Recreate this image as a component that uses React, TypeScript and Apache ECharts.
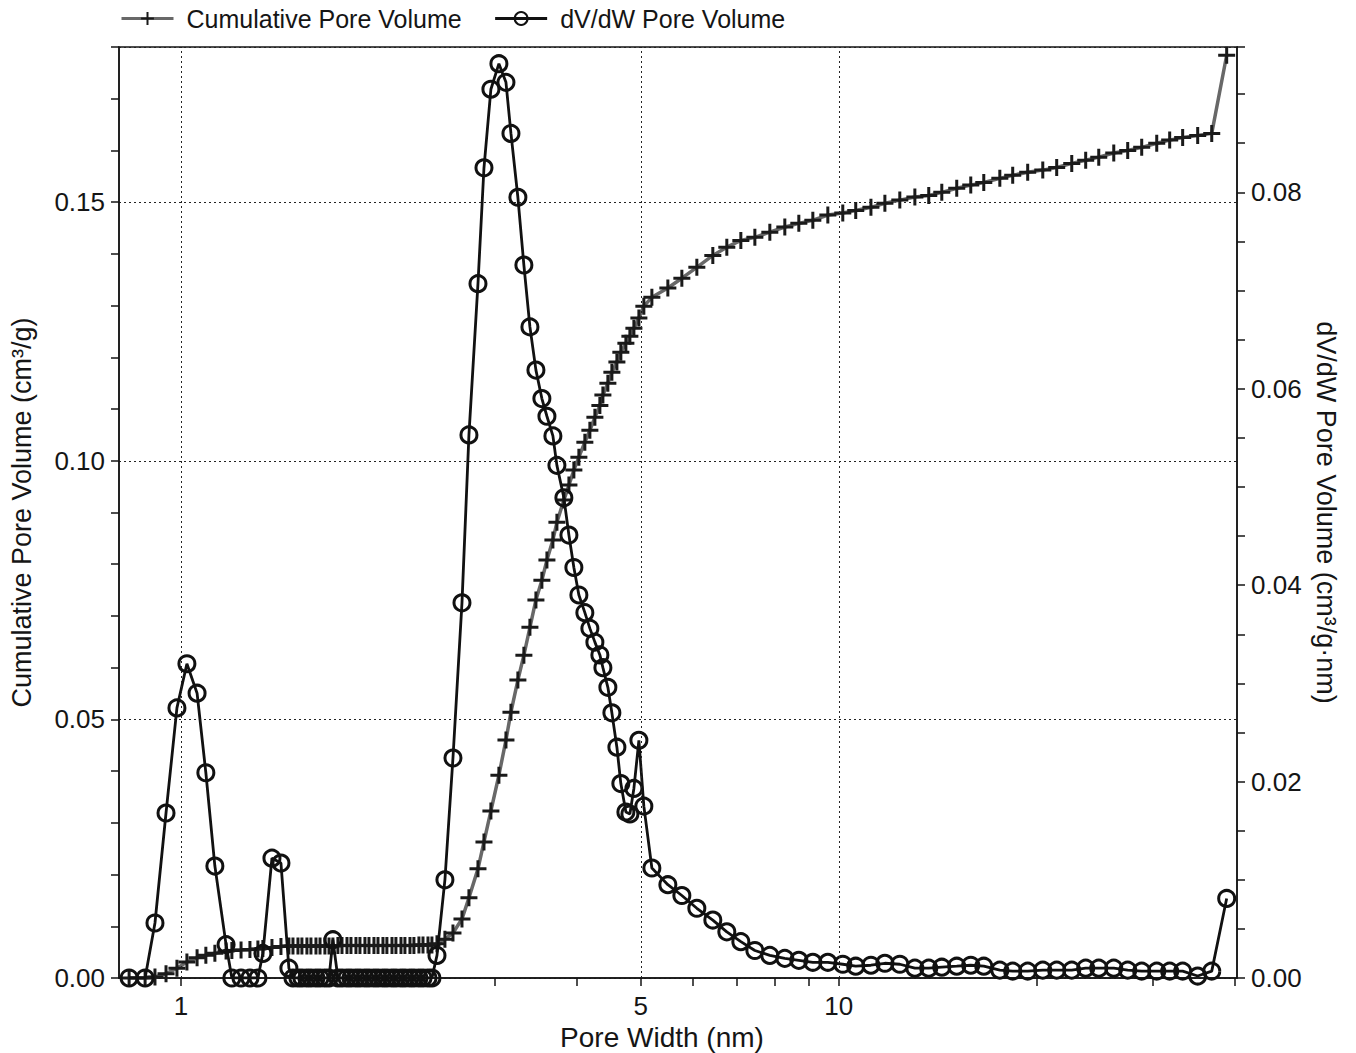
import React, { useEffect, useRef } from "react";
import * as echarts from "echarts";

// Pore width (nm), shared by both series
const poreWidth = [
  0.834, 0.882, 0.913, 0.949, 0.986, 1.021, 1.058, 1.091, 1.126, 1.171, 1.195, 1.234, 1.273, 1.309, 1.332, 1.375, 1.419, 1.459,
  1.48, 1.506, 1.527, 1.554, 1.576, 1.604, 1.627, 1.655, 1.679, 1.702, 1.732, 1.757, 1.788, 1.813, 1.845, 1.871, 1.904, 1.931,
  1.965, 1.993, 2.028, 2.056, 2.093, 2.122, 2.16, 2.19, 2.229, 2.26, 2.3, 2.333, 2.374, 2.407,
  2.45, 2.519, 2.591, 2.674, 2.74, 2.828, 2.888, 2.959, 3.043, 3.119, 3.174, 3.252, 3.321, 3.392, 3.464, 3.537, 3.6, 3.676,
  3.728, 3.82, 3.888, 3.956, 4.026, 4.111, 4.184, 4.258, 4.333, 4.379, 4.456, 4.519, 4.599, 4.663, 4.746, 4.813, 4.881, 4.967,
  5.054, 5.198,
  5.497, 5.773, 6.084, 6.434, 6.757, 7.097, 7.454, 7.855, 8.278, 8.694, 9.131, 9.623, 10.14, 10.61, 11.19, 11.75, 12.38, 13.05,
  13.7, 14.34, 15.11, 15.87, 16.61, 17.57, 18.38, 19.37, 20.42, 21.44, 22.6, 23.73, 24.84, 26.18, 27.49, 28.87, 30.43, 31.84,
  33.32, 35.12, 36.89, 38.87,
];

// Cumulative pore volume (cm³/g), left axis
const cumulativePoreVolume = [
  0, 0, 0.0002, 0.0008, 0.0019, 0.0031, 0.0039, 0.0044, 0.0048, 0.0052, 0.0053, 0.0054, 0.0055, 0.0056, 0.0057, 0.0059, 0.0061, 0.0062,
  0.0062, 0.0062, 0.0062, 0.0062, 0.0062, 0.0062, 0.0062, 0.0062, 0.0062, 0.0062, 0.0063, 0.0063, 0.0063, 0.0063, 0.0063, 0.0063,
  0.0063, 0.0063, 0.0063, 0.0063, 0.0063, 0.0063, 0.0063, 0.0063, 0.0063, 0.0063, 0.0063, 0.0063, 0.0064, 0.0064, 0.0064, 0.0064,
  0.0066, 0.0075, 0.0087, 0.0114, 0.0155, 0.0211, 0.0263, 0.0323, 0.0392, 0.046, 0.0514, 0.0576, 0.0624, 0.0678, 0.0731, 0.0769,
  0.0808, 0.0847, 0.0881, 0.0924, 0.0953, 0.0982, 0.1007, 0.1036, 0.1059, 0.1084, 0.1107, 0.1127, 0.115, 0.1171, 0.1191, 0.121,
  0.1227, 0.1241, 0.1256, 0.1276, 0.1299, 0.1316,
  0.1334, 0.1353, 0.1374, 0.1397, 0.1413, 0.1426, 0.1432, 0.1442, 0.1452, 0.1459, 0.1465, 0.1475, 0.1479, 0.1484, 0.149, 0.1498,
  0.1504, 0.151, 0.1513, 0.1519, 0.1527, 0.1533, 0.1538, 0.1546, 0.1552, 0.1558, 0.1562, 0.1567, 0.1575, 0.1581, 0.1587, 0.1595,
  0.16, 0.1606, 0.1614, 0.162, 0.1625, 0.1629, 0.1633, 0.1784,
];

// dV/dW pore volume (cm³/g·nm), right axis
const dVdWPoreVolume = [
  0, 0, 0.0056, 0.0168, 0.0275, 0.032, 0.029, 0.0209, 0.0114, 0.0034, 0, 0, 0, 0, 0.0025, 0.0122, 0.0117, 0.001,
  0, 0, 0, 0, 0, 0, 0, 0, 0, 0.0039, 0, 0, 0, 0, 0, 0, 0, 0, 0, 0, 0, 0, 0, 0, 0, 0, 0, 0, 0, 0, 0, 0,
  0.0023, 0.01, 0.0224, 0.0382, 0.0553, 0.0707, 0.0825, 0.0905, 0.0931, 0.0912, 0.086, 0.0795, 0.0726, 0.0663, 0.0619, 0.059,
  0.0572, 0.0552, 0.0522, 0.0489, 0.0451, 0.0418, 0.039, 0.0372, 0.0356, 0.0342, 0.0329, 0.0316, 0.0296, 0.027, 0.0235, 0.0198,
  0.0169, 0.0167, 0.0193, 0.0242, 0.0175, 0.0112,
  0.0095, 0.0084, 0.0071, 0.0059, 0.0047, 0.0037, 0.0028, 0.0023, 0.002, 0.0018, 0.0016, 0.0016, 0.0014, 0.0012, 0.0013, 0.0015,
  0.0014, 0.001, 0.001, 0.0011, 0.0012, 0.0013, 0.0012, 0.0008, 0.0007, 0.0007, 0.0008, 0.0008, 0.0008, 0.001, 0.001, 0.001,
  0.0008, 0.0007, 0.0007, 0.0007, 0.0007, 0.0002, 0.0007, 0.0081,
];

const xLabelValues = [1, 5, 10];
const xTickValues = [1, 2, 3, 4, 5, 6, 7, 8, 9, 10, 20, 30, 40];
const xGridValues = [1, 5, 10];

const FONT = "'Liberation Sans', Arial, Helvetica, sans-serif";
const INK = "#151515";
const PLUS = "path://M8,0L8,16M0,8L16,8";

export default function App() {
  const ref = useRef<HTMLDivElement>(null);

  useEffect(() => {
    const chart = echarts.init(ref.current!, null, { renderer: "svg" });
    const axisLine = { show: true, onZero: false, lineStyle: { color: INK, width: 1.5 } };
    const tickLine = { color: INK, width: 1.5 };
    const tickFont = { fontFamily: FONT, fontSize: 26, color: INK };
    chart.setOption({
      animation: false,
      backgroundColor: "#ffffff",
      textStyle: { fontFamily: FONT },
      legend: {
        left: 115,
        top: 1,
        itemWidth: 52,
        itemHeight: 16,
        itemGap: 32,
        lineStyle: { width: 3 },
        textStyle: { fontFamily: FONT, fontSize: 25, color: INK, padding: [0, 0, 0, 8] },
        data: ["Cumulative Pore Volume", "dV/dW Pore Volume"],
      },
      grid: {
        left: 119,
        right: 119,
        top: 47,
        bottom: 75,
        containLabel: false,
        outerBoundsMode: "none",
        show: true,
        borderColor: INK,
        borderWidth: 1.5,
        backgroundColor: "transparent",
      },
      xAxis: {
        type: "log",
        logBase: 10,
        min: 0.805,
        max: 40.3,
        axisLine,
        axisTick: { show: true, customValues: xTickValues, length: 8, lineStyle: tickLine },
        minorTick: { show: false },
        axisLabel: {
          ...tickFont,
          customValues: xLabelValues,
          margin: 15,
          formatter: (v: number) => String(v),
        },
        splitLine: { show: false },
        name: "Pore Width (nm)",
        nameLocation: "middle",
        nameGap: 41,
        nameTextStyle: { fontFamily: FONT, fontSize: 28, color: INK, padding: [0, 32, 0, 0] },
      },
      yAxis: [
        {
          type: "value",
          position: "left",
          min: 0,
          max: 0.18,
          interval: 0.05,
          axisLine,
          axisTick: { show: true, length: 8, lineStyle: tickLine },
          minorTick: { show: true, splitNumber: 5, length: 8, lineStyle: tickLine },
          axisLabel: {
            ...tickFont,
            margin: 14,
            showMaxLabel: false,
            formatter: (v: number) => v.toFixed(2),
          },
          splitLine: { show: true, lineStyle: { type: [2, 3], color: "#222", width: 1 } },
          name: "Cumulative Pore Volume (cm³/g)",
          nameLocation: "middle",
          nameGap: 84,
          nameTextStyle: { fontFamily: FONT, fontSize: 27, color: INK },
        },
        {
          type: "value",
          position: "right",
          min: 0,
          max: 0.0948,
          interval: 0.02,
          axisLine,
          axisTick: { show: true, length: 8, lineStyle: tickLine },
          minorTick: { show: true, splitNumber: 4, length: 8, lineStyle: tickLine },
          axisLabel: {
            ...tickFont,
            margin: 14,
            showMaxLabel: false,
            formatter: (v: number) => v.toFixed(2),
          },
          splitLine: { show: false },
          name: "dV/dW Pore Volume (cm³/g·nm)",
          nameLocation: "middle",
          nameRotate: -90,
          nameGap: 62,
          nameTextStyle: { fontFamily: FONT, fontSize: 27, color: INK },
        },
      ],
      series: [
        {
          name: "Cumulative Pore Volume",
          type: "line",
          xAxisIndex: 0,
          yAxisIndex: 0,
          data: poreWidth.map((w, i) => [w, cumulativePoreVolume[i]]),
          symbol: PLUS,
          symbolSize: 17,
          showAllSymbol: true,
          lineStyle: { color: "#686868", width: 3.5 },
          itemStyle: { color: "#1a1a1a", borderColor: "#1a1a1a", borderWidth: 3 },
          z: 2,
          markLine: {
            silent: true,
            symbol: "none",
            label: { show: false },
            lineStyle: { type: [2, 3], color: "#222", width: 1 },
            data: xGridValues.map((v) => ({ xAxis: v })),
          },
        },
        {
          name: "dV/dW Pore Volume",
          type: "line",
          xAxisIndex: 0,
          yAxisIndex: 1,
          data: poreWidth.map((w, i) => [w, dVdWPoreVolume[i]]),
          symbol: "circle",
          symbolSize: 16,
          showAllSymbol: true,
          lineStyle: { color: "#111", width: 2.8 },
          itemStyle: { color: "transparent", borderColor: "#111", borderWidth: 3 },
          z: 3,
        },
      ],
    });
    return () => chart.dispose();
  }, []);

  return (
    <div
      ref={ref}
      style={{ position: "absolute", left: 0, top: 0, width: 1356, height: 1053, background: "#fff" }}
    />
  );
}
